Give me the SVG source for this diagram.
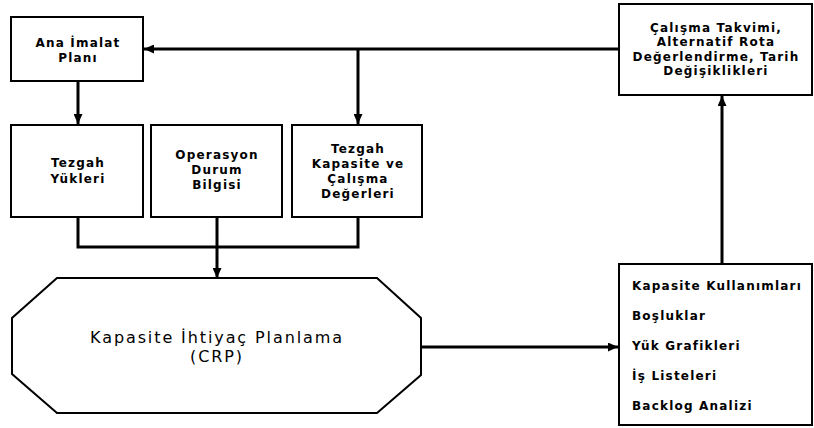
<svg xmlns="http://www.w3.org/2000/svg" width="814" height="428" viewBox="0 0 814 428">
  <style>
    .box { fill: #ffffff; stroke: #000000; stroke-width: 2; }
    .wire { fill: none; stroke: #000000; stroke-width: 3; }
    .lbl { font-family: "DejaVu Sans", Verdana, sans-serif; font-weight: bold; font-size: 12px; letter-spacing: 1.2px; fill: #000000; text-anchor: middle; }
    .lst { font-family: "DejaVu Sans", Verdana, sans-serif; font-weight: bold; font-size: 12px; letter-spacing: 1.2px; fill: #000000; }
    .crp { font-family: "DejaVu Sans", Verdana, sans-serif; font-size: 16px; letter-spacing: 1.9px; fill: #000000; text-anchor: middle; }
  </style>
  <defs>
    <marker id="arrow" markerUnits="userSpaceOnUse" markerWidth="10" markerHeight="9" refX="10" refY="4.5" orient="auto">
      <path d="M0,0 L10,4.5 L0,9 z" fill="#000000"/>
    </marker>
  </defs>

  <rect width="814" height="428" fill="#ffffff"/>

  <g id="connectors">
    <line class="wire" x1="619" y1="49" x2="144" y2="49" marker-end="url(#arrow)"/>
    <line class="wire" x1="358" y1="49" x2="358" y2="124" marker-end="url(#arrow)"/>
    <line class="wire" x1="78" y1="81" x2="78" y2="124" marker-end="url(#arrow)"/>
    <path class="wire" d="M78,217 V247 H358 V217"/>
    <line class="wire" x1="217" y1="217" x2="217" y2="278" marker-end="url(#arrow)"/>
    <line class="wire" x1="421" y1="347" x2="618" y2="347" marker-end="url(#arrow)"/>
    <line class="wire" x1="722" y1="264" x2="722" y2="96" marker-end="url(#arrow)"/>
  </g>

  <g id="ana-imalat-plani">
    <rect class="box" x="11" y="17" width="132" height="64"/>
    <text class="lbl" x="78" y="47">Ana İmalat</text>
    <text class="lbl" x="78" y="62">Planı</text>
  </g>

  <g id="tezgah-yukleri">
    <rect class="box" x="11" y="125" width="132" height="92"/>
    <text class="lbl" x="78" y="167">Tezgah</text>
    <text class="lbl" x="78" y="183">Yükleri</text>
  </g>

  <g id="operasyon-durum">
    <rect class="box" x="151" y="125" width="131" height="92"/>
    <text class="lbl" x="217" y="159">Operasyon</text>
    <text class="lbl" x="217" y="174">Durum</text>
    <text class="lbl" x="217" y="189">Bilgisi</text>
  </g>

  <g id="tezgah-kapasite">
    <rect class="box" x="292" y="125" width="130" height="92"/>
    <text class="lbl" x="358" y="153">Tezgah</text>
    <text class="lbl" x="358" y="168">Kapasite ve</text>
    <text class="lbl" x="358" y="183">Çalışma</text>
    <text class="lbl" x="358" y="198">Değerleri</text>
  </g>

  <g id="calisma-takvimi">
    <rect class="box" x="619" y="4" width="193" height="91"/>
    <text class="lbl" x="716" y="32">Çalışma Takvimi,</text>
    <text class="lbl" x="716" y="46">Alternatif Rota</text>
    <text class="lbl" x="716" y="61">Değerlendirme, Tarih</text>
    <text class="lbl" x="716" y="75">Değişiklikleri</text>
  </g>

  <g id="crp">
    <polygon class="box" points="57,278 377,278 421,318 421,375 377,413 57,413 12,374 12,318"/>
    <text class="crp" x="217" y="343">Kapasite İhtiyaç Planlama</text>
    <text class="crp" x="217" y="362">(CRP)</text>
  </g>

  <g id="ciktilar">
    <rect class="box" x="619" y="264" width="193" height="161"/>
    <text class="lst" x="632" y="290">Kapasite Kullanımları</text>
    <text class="lst" x="632" y="320">Boşluklar</text>
    <text class="lst" x="632" y="350">Yük Grafikleri</text>
    <text class="lst" x="632" y="380">İş Listeleri</text>
    <text class="lst" x="632" y="410">Backlog Analizi</text>
  </g>
</svg>
